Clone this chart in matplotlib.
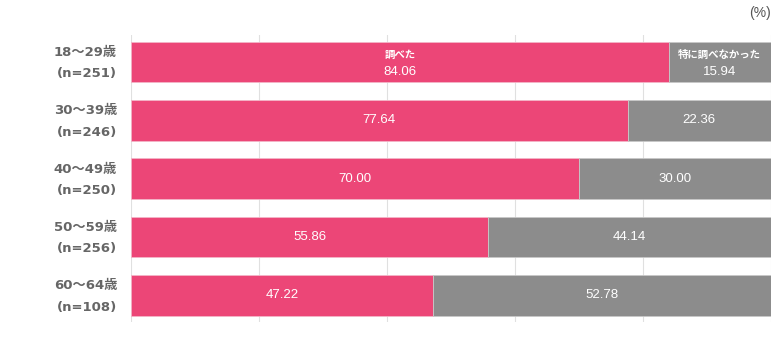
import numpy as np
import matplotlib.pyplot as plt
from matplotlib.transforms import ScaledTranslation

plt.rcParams['font.family'] = ['Liberation Sans', 'Noto Sans CJK JP', 'DejaVu Sans']

groups = ['18〜29歳\n(n=251)', '30〜39歳\n(n=246)', '40〜49歳\n(n=250)',
          '50〜59歳\n(n=256)', '60〜64歳\n(n=108)']
checked = [84.06, 77.64, 70.00, 55.86, 47.22]
not_checked = [15.94, 22.36, 30.00, 44.14, 52.78]
series_names = ['調べた', '特に調べなかった']

pink = '#EC4677'
grey = '#8C8C8C'

fig = plt.figure(figsize=(7.8, 3.38), dpi=100)
ax = fig.add_axes([0.168, 0.047, 0.82, 0.849])

y = np.arange(len(groups))
h = 0.7
ax.barh(y, checked, height=h, color=pink, edgecolor='#f3b6c8', linewidth=0.6, zorder=2)
ax.barh(y, not_checked, left=checked, height=h, color=grey, edgecolor='#c8c8c8',
        linewidth=0.6, zorder=2)

num_fs = 9.5
for i in range(len(groups)):
    c, n = checked[i], not_checked[i]
    if i == 0:
        # series names only on the first row
        ax.text(c / 2, i - 0.13, series_names[0], ha='center', va='center',
                color='white', fontsize=7.5, fontweight='bold', zorder=3)
        ax.text(c / 2, i + 0.17, f'{c:.2f}', ha='center', va='center',
                color='white', fontsize=num_fs, zorder=3)
        ax.text(c + n / 2, i - 0.13, series_names[1], ha='center', va='center',
                color='white', fontsize=7.5, fontweight='bold', zorder=3)
        ax.text(c + n / 2, i + 0.17, f'{n:.2f}', ha='center', va='center',
                color='white', fontsize=num_fs, zorder=3)
    else:
        ax.text(c / 2, i, f'{c:.2f}', ha='center', va='center',
                color='white', fontsize=num_fs, zorder=3)
        ax.text(c + n / 2, i, f'{n:.2f}', ha='center', va='center',
                color='white', fontsize=num_fs, zorder=3)

ax.set_xlim(0, 100)
ax.set_ylim(len(groups) - 0.54, -0.46)
ax.set_xticks([0, 20, 40, 60, 80, 100])
ax.set_xticklabels([])
ax.grid(axis='x', color='#e0e0e0', linewidth=0.8, zorder=0)
ax.tick_params(length=0)
for s in ax.spines.values():
    s.set_visible(False)

ax.set_yticks(y)
ax.set_yticklabels(groups, fontsize=9.5, fontweight='bold', color='#666666',
                   linespacing=1.85, ha='right', family=['DejaVu Sans', 'Noto Sans CJK JP'])
ax.tick_params(axis='y', pad=10)
# nudge the two-line labels up a little
shift = ScaledTranslation(0, 0.045, fig.dpi_scale_trans)
for lbl in ax.get_yticklabels():
    lbl.set_transform(lbl.get_transform() + shift)

fig.text(0.988, 0.962, '(%)', ha='right', va='center', fontsize=10, color='#555555')

fig.savefig('out.png', dpi=100)
